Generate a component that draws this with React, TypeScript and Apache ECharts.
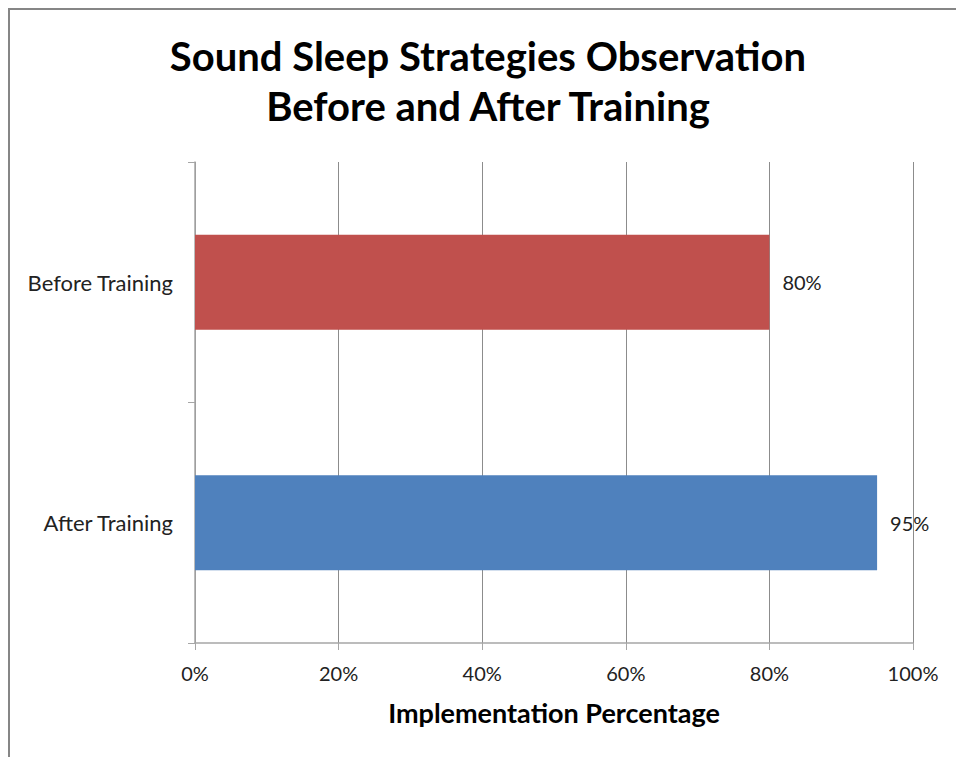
import React, { useEffect, useRef } from "react";
import * as echarts from "echarts";

const categories = ["Before Training", "After Training"];
const values = [80, 95];
const barColors = ["#C0504D", "#4F81BD"];
const xTicks = [0, 20, 40, 60, 80, 100];
const titleLines = ["Sound Sleep Strategies Observation", "Before and After Training"];
const xAxisName = "Implementation Percentage";

export default function App() {
  const ref = useRef<HTMLDivElement>(null);
  useEffect(() => {
    if (!ref.current) return;
    const chart = echarts.init(ref.current, null, { renderer: "svg" });
    const font = "Lato, 'Open Sans', sans-serif";
    chart.setOption({
      animation: false,
      backgroundColor: "#ffffff",
      graphic: [
        {
          type: "rect",
          shape: { x: 9, y: 9, width: 1000, height: 1000 },
          style: { fill: "none", stroke: "#868686", lineWidth: 2 },
          silent: true,
        },
        ...titleLines.map((t, i) => ({
          type: "text",
          x: 488,
          y: 56 + i * 50,
          silent: true,
          style: {
            text: t,
            fontFamily: font,
            fontSize: 40,
            fontWeight: "bold",
            fill: "#000000",
            textAlign: "center",
            textVerticalAlign: "middle",
          },
        })),
      ],
      grid: { left: 195, right: 43, top: 162, bottom: 114 },
      xAxis: {
        type: "value",
        min: 0,
        max: 100,
        interval: 20,
        name: xAxisName,
        nameLocation: "middle",
        nameGap: 56,
        nameTextStyle: { fontFamily: font, fontSize: 27, fontWeight: "bold", color: "#000" },
        axisLine: { show: true, lineStyle: { color: "#A6A6A6", width: 1.5 } },
        axisTick: { show: true, length: 7, lineStyle: { color: "#A6A6A6" } },
        axisLabel: {
          fontFamily: font,
          fontSize: 20,
          color: "#222",
          margin: 20,
          formatter: (v: number) => (xTicks.includes(v) ? v + "%" : ""),
        },
        splitLine: { show: true, lineStyle: { color: "#8C8C8C", width: 1 } },
      },
      yAxis: {
        type: "category",
        data: categories,
        inverse: true,
        axisLine: { show: true, lineStyle: { color: "#A6A6A6", width: 1.5 } },
        axisTick: { show: true, length: 7, lineStyle: { color: "#A6A6A6" } },
        axisLabel: { fontFamily: font, fontSize: 22, color: "#222", margin: 22 },
        splitLine: { show: false },
      },
      series: [
        {
          type: "bar",
          barWidth: 95,
          data: values.map((v, i) => ({ value: v, itemStyle: { color: barColors[i] } })),
          label: {
            show: true,
            position: "right",
            distance: 13,
            fontFamily: font,
            fontSize: 20,
            color: "#222",
            formatter: (p: any) => p.value + "%",
          },
        },
      ],
    });
    return () => chart.dispose();
  }, []);
  return (
    <div
      ref={ref}
      style={{ position: "fixed", left: 0, top: 0, width: 956, height: 757 }}
    />
  );
}
